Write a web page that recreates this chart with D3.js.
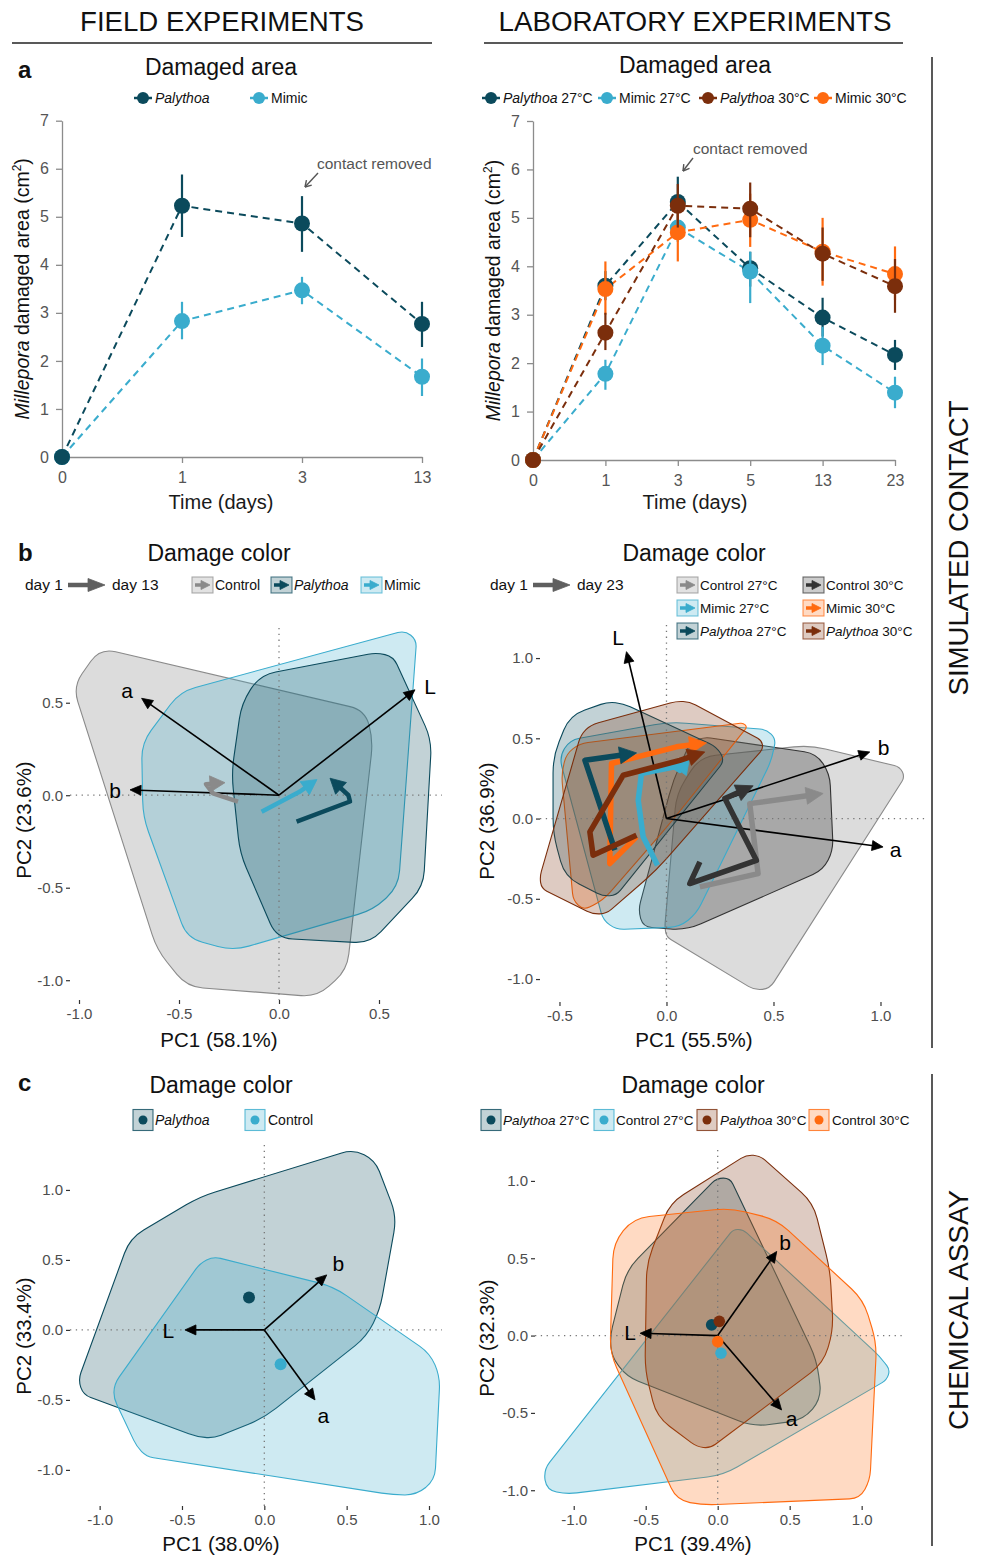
<!DOCTYPE html>
<html><head><meta charset="utf-8">
<script src="https://cdn.jsdelivr.net/npm/d3@7"></script>
<style>
body{margin:0;background:#fff}
svg{display:block}
text{font-family:"Liberation Sans",Arial,Helvetica,sans-serif}
</style>
</head><body>
<svg id="fig" width="982" height="1555"></svg>
<script>
// ---------------- DATA ----------------
// Panel a (field)
const fieldDays = ["0","1","3","13"];
const fieldPalythoa   = [0,5.23,4.86,2.77];
const fieldPalythoaLo = [0,4.58,4.27,2.29];
const fieldPalythoaHi = [0,5.88,5.43,3.23];
const fieldMimic      = [0,2.83,3.47,1.67];
const fieldMimicLo    = [0,2.45,3.18,1.27];
const fieldMimicHi    = [0,3.23,3.75,2.05];
// Panel a (lab)
const labDays = ["0","1","3","5","13","23"];
const labPal27   = [0,3.60,5.33,3.96,2.94,2.17];
const labPal27Lo = [0,3.30,4.80,3.58,2.55,1.86];
const labPal27Hi = [0,3.90,5.85,4.30,3.35,2.48];
const labMim27   = [0,1.78,4.80,3.89,2.36,1.39];
const labMim27Lo = [0,1.45,4.50,3.24,1.96,1.07];
const labMim27Hi = [0,2.07,5.10,4.30,2.75,1.72];
const labPal30   = [0,2.63,5.25,5.19,4.26,3.59];
const labPal30Lo = [0,2.27,4.80,4.60,3.70,3.04];
const labPal30Hi = [0,3.04,5.70,5.73,4.80,4.15];
const labMim30   = [0,3.53,4.70,4.96,4.30,3.84];
const labMim30Lo = [0,3.00,4.10,4.40,3.60,3.30];
const labMim30Hi = [0,4.10,5.30,5.50,5.00,4.41];
const areaTicks = [0,1,2,3,4,5,6,7];

// Panel b (field) PCA
const hullFieldControl  = [[-0.895,0.795],[-1.03,0.587],[-0.61,-0.836],[-0.46,-1.035],[0.19,-1.09],[0.34,-0.945],[0.47,0.30],[0.43,0.46]];
const hullFieldMimic    = [[-0.687,0.281],[-0.495,0.56],[0.63,0.89],[0.688,0.84],[0.597,-0.494],[0.472,-0.62],[-0.228,-0.84],[-0.46,-0.773],[-0.68,-0.116]];
const hullFieldPalythoa = [[-0.095,0.65],[0.488,0.771],[0.572,0.749],[0.763,0.299],[0.722,-0.494],[0.455,-0.80],[-0.012,-0.773],[-0.195,-0.314],[-0.237,0.119],[-0.187,0.497]];
const trajFieldControl  = [[-0.205,-0.035],[-0.33,0.01],[-0.365,0.06],[-0.27,0.068]];
const trajFieldMimic    = [[-0.087,-0.089],[0.105,0.02],[0.19,0.085]];
const trajFieldPalythoa = [[0.088,-0.143],[0.355,-0.034],[0.347,0.0],[0.255,0.092]];
const loadFieldColor = {a:[-0.687,0.524], b:[-0.745,0.029], L:[0.68,0.57]};
const labelFieldColor = {a:[-0.76,0.57], b:[-0.82,0.03], L:[0.755,0.59]};
const pcaTicksFieldX = [-1.0,-0.5,0.0,0.5];
const pcaTicksFieldY = [-1.0,-0.5,0.0,0.5];

// Panel b (lab) PCA
const hullLabCtl27 = [[0.156,0.384],[0.67,0.457],[1.09,0.322],[1.114,0.26],[0.483,-1.059],[0.413,-1.07],[0.0,-0.737],[-0.008,-0.675],[0.047,0.156]];
const hullLabCtl30 = [[0.171,0.509],[0.70,0.405],[0.763,0.28],[0.779,-0.197],[0.732,-0.321],[0.093,-0.696],[-0.109,-0.675],[-0.132,-0.571],[0.031,0.239],[0.109,0.467]];
const hullLabMim27 = [[-0.452,0.489],[0.016,0.602],[0.467,0.555],[0.511,0.498],[0.491,0.363],[0.14,-0.592],[0.062,-0.675],[-0.234,-0.692],[-0.296,-0.633],[-0.501,0.384]];
const hullLabMim30 = [[-0.467,0.405],[-0.405,0.467],[0.358,0.596],[0.377,0.571],[0.016,-0.031],[-0.296,-0.509],[-0.389,-0.571],[-0.436,-0.509],[-0.491,0.28]];
const hullLabPal27 = [[-0.53,0.384],[-0.452,0.644],[-0.273,0.727],[-0.202,0.717],[0.234,0.447],[0.273,0.363],[-0.234,-0.478],[-0.296,-0.484],[-0.475,-0.363],[-0.53,-0.093]];
const hullLabPal30 = [[-0.39,0.57],[0.047,0.731],[0.109,0.727],[0.444,0.488],[0.452,0.436],[-0.047,-0.322],[-0.28,-0.592],[-0.343,-0.596],[-0.584,-0.436],[-0.592,-0.363]];
const trajLabCtl27 = [[0.156,-0.426],[0.428,-0.343],[0.389,0.093],[0.732,0.156]];
const trajLabCtl30 = [[0.156,-0.27],[0.109,-0.405],[0.42,-0.26],[0.273,0.125],[0.405,0.204]];
const trajLabMim27 = [[-0.042,-0.291],[-0.109,-0.114],[-0.132,0.114],[-0.117,0.28],[0.039,0.322],[0.062,0.301],[0.109,0.384]];
const trajLabMim30 = [[-0.14,-0.114],[-0.265,-0.28],[-0.257,0.343],[0.047,0.447],[0.187,0.471]];
const trajLabPal27 = [[-0.241,-0.197],[-0.381,0.363],[-0.14,0.409]];
const trajLabPal30 = [[-0.14,-0.104],[-0.343,-0.228],[-0.358,-0.083],[-0.202,0.27],[0.062,0.363],[0.179,0.415]];
const loadLabColor = {L:[-0.187,1.04], b:[0.95,0.415], a:[1.012,-0.177]};
const labelLabColor = {L:[-0.226,1.13], b:[1.015,0.447], a:[1.07,-0.19]};
const pcaTicksLabX = [-0.5,0.0,0.5,1.0];
const pcaTicksLabY = [-1.0,-0.5,0.0,0.5,1.0];

// Panel c (field) PCA
const hullChemPal = [[-0.816,0.655],[-0.391,0.952],[0.54,1.29],[0.672,1.214],[0.804,0.81],[0.702,0.143],[0.621,-0.048],[-0.006,-0.631],[-0.31,-0.774],[-0.411,-0.762],[-1.099,-0.464],[-1.13,-0.357]];
const hullChemCtl = [[-0.937,-0.429],[-0.391,0.476],[-0.31,0.524],[0.419,0.31],[1.006,-0.167],[1.067,-0.333],[1.036,-1.071],[0.925,-1.179],[0.783,-1.179],[-0.715,-0.905],[-0.775,-0.833]];
const centChemPal = [-0.093,0.231];
const centChemCtl = [0.099,-0.245];
const loadChemField = {L:[-0.482,0.0], b:[0.379,0.393], a:[0.308,-0.5]};
const labelChemField = {L:[-0.583,0.0], b:[0.449,0.476], a:[0.358,-0.607]};
const pcaTicksChemX = [-1.0,-0.5,0.0,0.5,1.0];
const pcaTicksChemY = [-1.0,-0.5,0.0,0.5,1.0];

// Panel c (lab) PCA
const hullChemPal27 = [[-0.748,-0.006],[-0.632,0.425],[-0.007,1.018],[0.086,1.018],[0.688,-0.157],[0.722,-0.406],[0.595,-0.546],[0.248,-0.589],[-0.632,-0.265],[-0.736,-0.136]];
const hullChemCtl27 = [[0.109,0.688],[0.178,0.684],[1.127,-0.136],[1.197,-0.222],[1.174,-0.287],[0.039,-0.902],[-1.049,-1.025],[-1.188,-0.999],[-1.21,-0.87]];
const hullChemPal30 = [[-0.493,0.468],[-0.331,0.857],[0.201,1.169],[0.294,1.163],[0.664,0.857],[0.78,0.425],[0.803,0.037],[0.734,-0.179],[-0.053,-0.729],[-0.146,-0.718],[-0.424,-0.524],[-0.505,-0.222]];
const hullChemCtl30 = [[-0.586,0.759],[0.086,0.824],[0.41,0.749],[1.012,0.231],[1.104,-0.05],[1.058,-0.934],[0.988,-1.053],[-0.1,-1.096],[-0.285,-1.064],[-0.748,-0.114],[-0.725,0.598]];
const centChemPal27 = [-0.042,0.069];
const centChemCtl27 = [0.023,-0.114];
const centChemPal30 = [0.011,0.092];
const centChemCtl30 = [0.0,-0.039];
const loadChemLab = {L:[-0.539,0.015], b:[0.41,0.544], a:[0.444,-0.481]};
const labelChemLab = {L:[-0.609,0.026], b:[0.468,0.608], a:[0.514,-0.535]};

// Colours
const cPal27 = "#0b4a5c", cMim27 = "#3aaccd", cPal30 = "#7b2e0c", cMim30 = "#ff6a10";
const cCtl27 = "#8a8a8a", cCtl30 = "#333333";

// ---------------- HELPERS ----------------
const svg = d3.select("#fig");
const FONT = '"Liberation Sans",Arial,Helvetica,sans-serif';

function roundedPath(pts, r){
  const n = pts.length; let d = "";
  for(let i=0;i<n;i++){
    const P = pts[i], A = pts[(i-1+n)%n], B = pts[(i+1)%n];
    const d1 = Math.hypot(A[0]-P[0],A[1]-P[1]), d2 = Math.hypot(B[0]-P[0],B[1]-P[1]);
    const rr = Math.min(r, d1/2, d2/2);
    const p1 = [P[0]+(A[0]-P[0])*rr/d1, P[1]+(A[1]-P[1])*rr/d1];
    const p2 = [P[0]+(B[0]-P[0])*rr/d2, P[1]+(B[1]-P[1])*rr/d2];
    d += (i===0?"M":"L")+p1[0].toFixed(2)+","+p1[1].toFixed(2)+"Q"+P[0].toFixed(2)+","+P[1].toFixed(2)+" "+p2[0].toFixed(2)+","+p2[1].toFixed(2);
  }
  return d+"Z";
}

function drawArrow(g, pts, color, width, headLen, headW){
  const n = pts.length;
  const [xa,ya] = pts[n-2], [xb,yb] = pts[n-1];
  const dx = xb-xa, dy = yb-ya, L = Math.hypot(dx,dy), ux = dx/L, uy = dy/L;
  const base = [xb-ux*headLen*0.85, yb-uy*headLen*0.85];
  const linePts = pts.slice(0,n-1).concat([base]);
  g.append("path").attr("d", d3.line()(linePts)).attr("fill","none")
    .attr("stroke",color).attr("stroke-width",width).attr("stroke-linejoin","round").attr("stroke-linecap","butt");
  const bx = xb-ux*headLen, by = yb-uy*headLen, px = -uy, py = ux;
  g.append("path").attr("d", `M${xb},${yb}L${bx+px*headW},${by+py*headW}L${bx-px*headW},${by-py*headW}Z`)
    .attr("fill",color).attr("stroke",color).attr("stroke-width",0.8).attr("stroke-linejoin","miter");
}

function txt(g, x, y, s, opt={}){
  const t = g.append("text").attr("x",x).attr("y",y).text(s)
    .attr("font-size", opt.size||14).attr("fill", opt.fill||"#111")
    .attr("text-anchor", opt.anchor||"start");
  if(opt.weight) t.attr("font-weight",opt.weight);
  if(opt.italic) t.attr("font-style","italic");
  return t;
}
function richText(g, x, y, ital, rest, size, anchor){
  const t = g.append("text").attr("x",x).attr("y",y).attr("font-size",size).attr("fill","#111")
    .attr("text-anchor",anchor||"start");
  if(ital) t.append("tspan").attr("font-style","italic").text(ital);
  if(rest) t.append("tspan").text(rest);
  return t;
}

// ---------------- HEADERS ----------------
const hdr = svg.append("g");
hdr.append("text").attr("x",222).attr("y",31).attr("text-anchor","middle").attr("font-size",27)
  .attr("textLength",284).attr("lengthAdjust","spacingAndGlyphs").attr("fill","#111").text("FIELD EXPERIMENTS");
hdr.append("text").attr("x",695).attr("y",31).attr("text-anchor","middle").attr("font-size",27)
  .attr("textLength",393).attr("lengthAdjust","spacingAndGlyphs").attr("fill","#111").text("LABORATORY EXPERIMENTS");
hdr.append("line").attr("x1",12).attr("x2",432).attr("y1",43).attr("y2",43).attr("stroke","#222").attr("stroke-width",1.5);
hdr.append("line").attr("x1",484).attr("x2",903).attr("y1",43).attr("y2",43).attr("stroke","#222").attr("stroke-width",1.5);
hdr.append("line").attr("x1",932).attr("x2",932).attr("y1",57).attr("y2",1048).attr("stroke","#222").attr("stroke-width",1.5);
hdr.append("line").attr("x1",932).attr("x2",932).attr("y1",1074).attr("y2",1546).attr("stroke","#222").attr("stroke-width",1.5);
hdr.append("text").attr("transform","translate(968,548) rotate(-90)").attr("text-anchor","middle").attr("font-size",27)
  .attr("textLength",295).attr("lengthAdjust","spacingAndGlyphs").attr("fill","#111").text("SIMULATED CONTACT");
hdr.append("text").attr("transform","translate(968,1310) rotate(-90)").attr("text-anchor","middle").attr("font-size",27)
  .attr("textLength",240).attr("lengthAdjust","spacingAndGlyphs").attr("fill","#111").text("CHEMICAL ASSAY");
txt(hdr,18,78,"a",{size:24,weight:"bold"});
txt(hdr,18,561,"b",{size:24,weight:"bold"});
txt(hdr,18,1091,"c",{size:24,weight:"bold"});

// ---------------- PANEL a ----------------
function areaPanel(cfg){
  const g = svg.append("g");
  const x = d3.scalePoint().domain(cfg.days).range(cfg.xr);
  const y = d3.scaleLinear().domain([0,7]).range(cfg.yr);
  const ax = g.append("g").attr("transform",`translate(0,${cfg.yr[0]})`)
    .call(d3.axisBottom(x).tickSize(6).tickSizeOuter(0).tickPadding(9));
  const ay = g.append("g").attr("transform",`translate(${cfg.xr[0]},0)`)
    .call(d3.axisLeft(y).tickValues(areaTicks).tickFormat(d3.format("d")).tickSize(6).tickSizeOuter(0).tickPadding(7));
  [ax,ay].forEach(a=>{
    a.selectAll("path,line").attr("stroke","#8c8c8c").attr("stroke-width",1.3);
    a.selectAll("text").attr("font-size",16).attr("fill","#555").attr("font-family",FONT);
  });
  cfg.series.forEach(s=>{
    const pts = cfg.days.map((d,i)=>[x(d), y(s.v[i])]);
    g.append("path").attr("d",d3.line()(pts)).attr("fill","none").attr("stroke",s.c)
      .attr("stroke-width",2).attr("stroke-dasharray","7,5");
  });
  cfg.series.forEach(s=>{
    cfg.days.forEach((d,i)=>{
      if(i===0) return;
      g.append("line").attr("x1",x(d)).attr("x2",x(d)).attr("y1",y(s.lo[i])).attr("y2",y(s.hi[i]))
        .attr("stroke",s.c).attr("stroke-width",2.2);
    });
    cfg.days.forEach((d,i)=>{
      g.append("circle").attr("cx",x(d)).attr("cy",y(s.v[i])).attr("r",8).attr("fill",s.c);
    });
  });
  txt(g,cfg.titleX,cfg.titleY,"Damaged area",{size:23,anchor:"middle"});
  txt(g,cfg.titleX,cfg.xlabY,"Time (days)",{size:20,anchor:"middle",fill:"#1a1a1a"});
  const yl = g.append("text").attr("transform",`translate(${cfg.ylabX},${(cfg.yr[0]+cfg.yr[1])/2}) rotate(-90)`)
    .attr("text-anchor","middle").attr("font-size",19.5).attr("fill","#111");
  yl.append("tspan").attr("font-style","italic").text("Millepora");
  yl.append("tspan").text(" damaged area (cm");
  yl.append("tspan").attr("font-size",12).attr("dy",-8).text("2");
  yl.append("tspan").attr("dy",8).text(")");
  cfg.legend.forEach(l=>{
    g.append("line").attr("x1",l.x-9).attr("x2",l.x+9).attr("y1",cfg.legY).attr("y2",cfg.legY).attr("stroke",l.c).attr("stroke-width",2.5);
    g.append("circle").attr("cx",l.x).attr("cy",cfg.legY).attr("r",6).attr("fill",l.c);
    richText(g,l.x+12,cfg.legY+5,l.ital,l.rest,14);
  });
  txt(g,cfg.ann[0],cfg.ann[1],"contact removed",{size:15.5,fill:"#555"});
  const a0=cfg.annArrow[0], a1=cfg.annArrow[1];
  g.append("line").attr("x1",a0[0]).attr("y1",a0[1]).attr("x2",a1[0]).attr("y2",a1[1]).attr("stroke","#555").attr("stroke-width",1.4);
  const ang = Math.atan2(a1[1]-a0[1],a1[0]-a0[0]);
  const hl=7;
  [ang+2.6, ang-2.6].forEach(t=>{
    g.append("line").attr("x1",a1[0]).attr("y1",a1[1]).attr("x2",a1[0]+hl*Math.cos(t)).attr("y2",a1[1]+hl*Math.sin(t))
      .attr("stroke","#555").attr("stroke-width",1.4);
  });
}

areaPanel({days:fieldDays, xr:[62,422], yr:[457,120.7], titleX:221, titleY:75, xlabY:509, ylabX:29, legY:98,
  series:[
    {v:fieldMimic, lo:fieldMimicLo, hi:fieldMimicHi, c:cMim27},
    {v:fieldPalythoa, lo:fieldPalythoaLo, hi:fieldPalythoaHi, c:cPal27}],
  legend:[{x:143,c:cPal27,ital:"Palythoa",rest:""},{x:259,c:cMim27,ital:"",rest:"Mimic"}],
  ann:[317,169], annArrow:[[318,173],[305,187]]});

areaPanel({days:labDays, xr:[533,895], yr:[460,121], titleX:695, titleY:73, xlabY:509, ylabX:500, legY:98,
  series:[
    {v:labPal27, lo:labPal27Lo, hi:labPal27Hi, c:cPal27},
    {v:labMim27, lo:labMim27Lo, hi:labMim27Hi, c:cMim27},
    {v:labMim30, lo:labMim30Lo, hi:labMim30Hi, c:cMim30},
    {v:labPal30, lo:labPal30Lo, hi:labPal30Hi, c:cPal30}],
  legend:[{x:491,c:cPal27,ital:"Palythoa",rest:" 27°C"},{x:607,c:cMim27,ital:"",rest:"Mimic 27°C"},
          {x:708,c:cPal30,ital:"Palythoa",rest:" 30°C"},{x:823,c:cMim30,ital:"",rest:"Mimic 30°C"}],
  ann:[693,154], annArrow:[[693,158],[683,171]]});

// ---------------- PCA PANELS ----------------
function pcaPanel(cfg){
  const g = svg.append("g");
  const x = d3.scaleLinear().domain(cfg.xd).range(cfg.xr);
  const y = d3.scaleLinear().domain(cfg.yd).range(cfg.yr);
  const P = p => [x(p[0]), y(p[1])];
  cfg.hulls.forEach(h=>{
    g.append("path").attr("d",roundedPath(h.pts.map(P),16))
      .attr("fill",h.c).attr("fill-opacity",h.op||0.25).attr("stroke",h.c).attr("stroke-width",1.1);
  });
  g.append("line").attr("x1",x(0)).attr("x2",x(0)).attr("y1",cfg.yr[1]).attr("y2",cfg.yr[0])
    .attr("stroke","#777").attr("stroke-width",1.3).attr("stroke-dasharray","1.3,4.5");
  g.append("line").attr("x1",cfg.xr[0]).attr("x2",cfg.xr[1]).attr("y1",y(0)).attr("y2",y(0))
    .attr("stroke","#777").attr("stroke-width",1.3).attr("stroke-dasharray","1.3,4.5");
  Object.keys(cfg.load).forEach(k=>{
    drawArrow(g,[P([0,0]),P(cfg.load[k])],"#000",1.6,11,5);
    txt(g,x(cfg.labels[k][0]),y(cfg.labels[k][1])+8,k,{size:21,anchor:"middle",fill:"#000"});
  });
  (cfg.traj||[]).forEach(t=>{
    drawArrow(g,t.pts.map(P),t.c,cfg.tw,cfg.hl,cfg.hw);
  });
  (cfg.cents||[]).forEach(c=>{
    g.append("circle").attr("cx",x(c.p[0])).attr("cy",y(c.p[1])).attr("r",cfg.cr).attr("fill",c.c);
  });
  const fmt = d => d.toFixed(1);
  const ax = g.append("g").attr("transform",`translate(0,${cfg.yr[0]})`)
    .call(d3.axisBottom(x).tickValues(cfg.tx).tickFormat(fmt).tickSize(4).tickPadding(4));
  const ay = g.append("g").attr("transform",`translate(${cfg.xr[0]},0)`)
    .call(d3.axisLeft(y).tickValues(cfg.ty).tickFormat(fmt).tickSize(4).tickPadding(3));
  [ax,ay].forEach(a=>{
    a.select(".domain").remove();
    a.selectAll("line").attr("stroke","#333").attr("stroke-width",1.2);
    a.selectAll("text").attr("font-size",15).attr("fill","#4d4d4d").attr("font-family",FONT);
  });
  txt(g,cfg.titleX,cfg.titleY,"Damage color",{size:23,anchor:"middle"});
  txt(g,cfg.titleX,cfg.xlabY,cfg.xlab,{size:20.5,anchor:"middle",fill:"#111"});
  g.append("text").attr("transform",`translate(${cfg.ylabX},${cfg.ylabY}) rotate(-90)`)
    .attr("text-anchor","middle").attr("font-size",20.5).attr("fill","#111").text(cfg.ylab);
  return g;
}

function legendKeyArrow(g, x, y, c){
  g.append("rect").attr("x",x).attr("y",y-8).attr("width",21).attr("height",16)
    .attr("fill",c).attr("fill-opacity",0.25).attr("stroke",c).attr("stroke-opacity",0.7).attr("stroke-width",1.1);
  drawArrow(g,[[x+3,y],[x+18,y]],c,3.5,9,4.5);
}
function legendKeyDot(g, x, y, c){
  g.append("rect").attr("x",x).attr("y",y-10.5).attr("width",20).attr("height",21)
    .attr("fill",c).attr("fill-opacity",0.25).attr("stroke",c).attr("stroke-opacity",0.8).attr("stroke-width",1.1);
  g.append("circle").attr("cx",x+10).attr("cy",y).attr("r",4.5).attr("fill",c);
}
function dayLegend(g, x, y, last){
  txt(g,x,y+5,"day 1",{size:15.5});
  drawArrow(g,[[x+43,y],[x+80,y]],"#5f5f5f",4.5,17,6.5);
  txt(g,x+87,y+5,last,{size:15.5});
}

const gBL = pcaPanel({xd:[-1.045,0.815], xr:[70,442], yd:[-1.107,0.904], yr:[1000,628],
  hulls:[{pts:hullFieldControl,c:cCtl27,op:0.3},{pts:hullFieldMimic,c:cMim27},{pts:hullFieldPalythoa,c:cPal27}],
  load:loadFieldColor, labels:labelFieldColor,
  traj:[{pts:trajFieldControl,c:cCtl27},{pts:trajFieldMimic,c:cMim27},{pts:trajFieldPalythoa,c:cPal27}],
  tw:4.5, hl:15, hw:8,
  tx:pcaTicksFieldX, ty:pcaTicksFieldY,
  titleX:219, titleY:561, xlab:"PC1 (58.1%)", xlabY:1047, ylab:"PC2 (23.6%)", ylabX:31, ylabY:820});
dayLegend(gBL,25,585,"day 13");
legendKeyArrow(gBL,192,585,cCtl27); txt(gBL,215,590,"Control",{size:14});
legendKeyArrow(gBL,271,585,cPal27); richText(gBL,294,590,"Palythoa","",14);
legendKeyArrow(gBL,361,585,cMim27); txt(gBL,384,590,"Mimic",{size:14});

const gBR = pcaPanel({xd:[-0.591,1.222], xr:[540,928], yd:[-1.143,1.206], yr:[1002,625],
  hulls:[{pts:hullLabCtl27,c:cCtl27,op:0.3},{pts:hullLabCtl30,c:cCtl30,op:0.3},{pts:hullLabMim27,c:cMim27},
         {pts:hullLabMim30,c:cMim30},{pts:hullLabPal27,c:cPal27},{pts:hullLabPal30,c:cPal30}],
  load:loadLabColor, labels:labelLabColor,
  traj:[{pts:trajLabCtl27,c:cCtl27},{pts:trajLabCtl30,c:cCtl30},{pts:trajLabMim27,c:cMim27},
        {pts:trajLabMim30,c:cMim30},{pts:trajLabPal27,c:cPal27},{pts:trajLabPal30,c:cPal30}],
  tw:5.5, hl:17, hw:8.5,
  tx:pcaTicksLabX, ty:pcaTicksLabY,
  titleX:694, titleY:561, xlab:"PC1 (55.5%)", xlabY:1047, ylab:"PC2 (36.9%)", ylabX:494, ylabY:821});
dayLegend(gBR,490,585,"day 23");
[[cCtl27,"","Control 27°C"],[cMim27,"","Mimic 27°C"],[cPal27,"Palythoa"," 27°C"]].forEach((r,i)=>{
  const yy = 585+i*23;
  legendKeyArrow(gBR,677,yy,r[0]); richText(gBR,700,yy+5,r[1],r[2],13.5);
});
[[cCtl30,"","Control 30°C"],[cMim30,"","Mimic 30°C"],[cPal30,"Palythoa"," 30°C"]].forEach((r,i)=>{
  const yy = 585+i*23;
  legendKeyArrow(gBR,803,yy,r[0]); richText(gBR,826,yy+5,r[1],r[2],13.5);
});

const gCL = pcaPanel({xd:[-1.18,1.079], xr:[70,442], yd:[-1.258,1.321], yr:[1506,1145],
  hulls:[{pts:hullChemPal,c:cPal27},{pts:hullChemCtl,c:cMim27}],
  load:loadChemField, labels:labelChemField,
  cents:[{p:centChemPal,c:cPal27},{p:centChemCtl,c:cMim27}], cr:6,
  tx:pcaTicksChemX, ty:pcaTicksChemY,
  titleX:221, titleY:1093, xlab:"PC1 (38.0%)", xlabY:1551, ylab:"PC2 (33.4%)", ylabX:31, ylabY:1336});
legendKeyDot(gCL,133,1120,cPal27); richText(gCL,155,1125,"Palythoa","",14);
legendKeyDot(gCL,245,1120,cMim27); txt(gCL,268,1125,"Control",{size:14});

const gCR = pcaPanel({xd:[-1.269,1.301], xr:[535,905], yd:[-1.102,1.2], yr:[1506,1150],
  hulls:[{pts:hullChemPal27,c:cPal27},{pts:hullChemCtl27,c:cMim27},{pts:hullChemPal30,c:cPal30},{pts:hullChemCtl30,c:cMim30}],
  load:loadChemLab, labels:labelChemLab,
  cents:[{p:centChemPal27,c:cPal27},{p:centChemPal30,c:cPal30},{p:centChemCtl30,c:cMim30},{p:centChemCtl27,c:cMim27}], cr:5.8,
  tx:pcaTicksChemX, ty:pcaTicksChemY,
  titleX:693, titleY:1093, xlab:"PC1 (39.4%)", xlabY:1551, ylab:"PC2 (32.3%)", ylabX:494, ylabY:1338});
legendKeyDot(gCR,481,1120,cPal27); richText(gCR,503,1125,"Palythoa"," 27°C",13.5);
legendKeyDot(gCR,594,1120,cMim27); txt(gCR,616,1125,"Control 27°C",{size:13.5});
legendKeyDot(gCR,697,1120,cPal30); richText(gCR,720,1125,"Palythoa"," 30°C",13.5);
legendKeyDot(gCR,809,1120,cMim30); txt(gCR,832,1125,"Control 30°C",{size:13.5});
</script>
</body></html>
